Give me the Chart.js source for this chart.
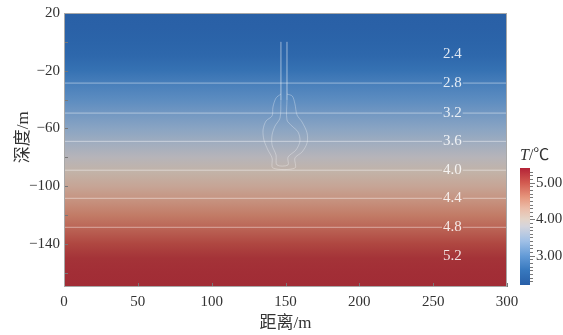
<!DOCTYPE html>
<html>
<head>
<meta charset="utf-8">
<script src="https://cdn.jsdelivr.net/npm/chart.js@4.4.1/dist/chart.umd.min.js"></script>
<style>
  html, body { margin: 0; padding: 0; background: #fff; }
  canvas { display: block; }
</style>
</head>
<body>
<canvas id="c" width="563" height="335"></canvas>
<script>
// temperature profile (depth in m, T in °C)
const depths = [20, 10, 0, -10, -20, -30, -40, -50, -60, -70, -80, -90, -100, -110, -120, -130, -140, -150, -160, -170];
const temps  = [2.28, 2.30, 2.34, 2.42, 2.62, 2.83, 3.02, 3.21, 3.41, 3.62, 3.82, 4.02, 4.22, 4.43, 4.63, 4.83, 5.05, 5.22, 5.26, 5.28];

// contour labels and where they sit
const contourLevels = [2.4, 2.8, 3.2, 3.6, 4.0, 4.4, 4.8, 5.2];
const contourDepths = [-8.5, -28.6, -49.4, -69.0, -89.0, -108.5, -128.6, -148.8];
const contourLines  = [2.8, 3.2, 3.6, 4.0, 4.4, 4.8];
const labelX = 263;

// outline of the structure (m)
const outerX = [146.9, 143.6, 141.5, 140.9, 136.8, 134.8, 135.4, 138.1, 140.9, 141.5, 156.4, 156.4, 161.2, 164.6, 164.6, 161.2, 157.8, 156.4, 154.6, 151.0];
const outerY = [-36.2, -38.9, -45.2, -51.4, -54.9, -61.1, -68.1, -75.0, -80.5, -87.5, -87.5, -80.5, -76.4, -70.1, -63.2, -55.6, -50.7, -43.1, -37.6, -36.2];
const innerX = [146.9, 146.3, 142.9, 140.9, 140.9, 143.6, 144.2, 151.7, 151.7, 157.1, 159.8, 158.5, 154.4, 151.0, 151.0];
const innerY = [-40.3, -52.8, -58.4, -64.6, -71.5, -78.5, -85.4, -85.4, -79.9, -75.0, -68.8, -62.5, -58.4, -54.2, -40.3];
const pipeX = [146.9, 151.0];
const pipeY = [0, -40.3];

// axes
const xTicks = [0, 50, 100, 150, 200, 250, 300];
const yLabelTicks = [20, -20, -60, -100, -140];
const cbMin = 2.2, cbMax = 5.4;
const cbTicks = [3, 4, 5];

// colour map (diverging blue - grey - red)
const cmapT = [2.2, 2.6, 3.0, 3.4, 3.8, 4.0, 4.3, 4.6, 5.0, 5.4];
const cmapC = [[40,95,168],[55,120,190],[100,155,215],[160,192,230],[212,212,220],[228,212,200],[235,188,168],[230,150,125],[210,90,80],[180,35,55]];
function cmap(t, shaded) {
  let i = 0;
  while (i < cmapT.length - 2 && t > cmapT[i + 1]) i++;
  let f = (t - cmapT[i]) / (cmapT[i + 1] - cmapT[i]);
  f = Math.max(0, Math.min(1, f));
  // the field is rendered a bit darker than the colour bar
  let s = 1;
  if (shaded) s = t <= 2.4 ? 0.96 : t >= 3.4 ? 0.85 : 0.96 - (t - 2.4) * 0.11;
  const c = cmapC[i].map((v, k) => Math.round((v + (cmapC[i + 1][k] - v) * f) * s));
  return 'rgb(' + c.join(',') + ')';
}

const serif = '"Liberation Serif", "Times New Roman", "Noto Sans CJK SC", serif';
const minus = v => String(v).replace('-', '\u2212');

function fieldFill(ctx) {
  const chart = ctx.chart;
  const area = chart.chartArea;
  if (!area) return null;
  const ys = chart.scales.y;
  const g = chart.ctx.createLinearGradient(0, area.top, 0, area.bottom);
  depths.forEach((d, i) => {
    const p = (ys.getPixelForValue(d) - area.top) / (area.bottom - area.top);
    g.addColorStop(Math.max(0, Math.min(1, p)), cmap(temps[i], true));
  });
  return g;
}

const datasets = [];
datasets.push({
  data: [{x: 0, y: 20}, {x: 300, y: 20}],
  showLine: true, borderWidth: 0, pointRadius: 0,
  fill: {value: -170}, backgroundColor: fieldFill, order: 5
});
contourLines.forEach(lv => {
  const d = contourDepths[contourLevels.indexOf(lv)];
  datasets.push({
    data: [{x: 0, y: d}, {x: labelX - 7, y: d}, {x: labelX, y: null}, {x: labelX + 7, y: d}, {x: 300, y: d}],
    showLine: true, spanGaps: false, borderColor: 'rgba(255,255,255,0.45)', borderWidth: 1, pointRadius: 0, order: 1
  });
});
datasets.push({
  data: outerX.map((x, i) => ({x, y: outerY[i]})),
  showLine: true, borderColor: 'rgba(255,255,255,0.3)', borderWidth: 1, pointRadius: 0, tension: 0.3, order: 1
});
datasets.push({
  data: innerX.map((x, i) => ({x, y: innerY[i]})),
  showLine: true, borderColor: 'rgba(255,255,255,0.3)', borderWidth: 1, pointRadius: 0, tension: 0.3, order: 1
});
pipeX.forEach(px => {
  datasets.push({
    data: [{x: px, y: pipeY[0]}, {x: px, y: pipeY[1]}],
    showLine: true, borderColor: 'rgba(255,255,255,0.2)', borderWidth: 1, pointRadius: 0, order: 1
  });
});

// frame, inward ticks and contour labels
const decor = {
  id: 'decor',
  afterDatasetsDraw(chart) {
    const {ctx, chartArea: a, scales: {x, y}} = chart;
    ctx.save();
    ctx.font = '15px ' + serif;
    ctx.fillStyle = 'rgba(255,255,255,0.85)';
    ctx.textAlign = 'center';
    ctx.textBaseline = 'middle';
    contourLevels.forEach((lv, i) => {
      ctx.fillText(lv.toFixed(1), x.getPixelForValue(labelX), y.getPixelForValue(contourDepths[i]));
    });
    ctx.strokeStyle = '#777';
    ctx.lineWidth = 1;
    ctx.beginPath();
    y.ticks.forEach(t => {
      const py = Math.round(y.getPixelForValue(t.value)) + 0.5;
      ctx.moveTo(a.left, py); ctx.lineTo(a.left + 4, py);
    });
    x.ticks.forEach(t => {
      const px = Math.round(x.getPixelForValue(t.value)) + 0.5;
      ctx.moveTo(px, a.bottom); ctx.lineTo(px, a.bottom - 4);
    });
    ctx.stroke();
    ctx.strokeStyle = '#a8a8a8';
    ctx.strokeRect(a.left + 0.5, a.top + 0.5, a.right - a.left - 1, a.bottom - a.top - 1);
    ctx.restore();
  }
};

// colour bar on the right
const colorbar = {
  id: 'colorbar',
  afterDraw(chart) {
    const {ctx, chartArea: a} = chart;
    const x0 = a.right + 13, w = 10, top = a.top + 155, bot = a.bottom - 2;
    const py = v => bot - (v - cbMin) / (cbMax - cbMin) * (bot - top);
    ctx.save();
    const g = ctx.createLinearGradient(0, bot, 0, top);
    cmapT.forEach(t => g.addColorStop((t - cbMin) / (cbMax - cbMin), cmap(t)));
    ctx.fillStyle = g;
    ctx.fillRect(x0, top, w, bot - top);
    ctx.strokeStyle = '#777';
    ctx.lineWidth = 1;
    ctx.beginPath();
    for (let k = 23; k <= 53; k++) {
      const yy = Math.round(py(k / 10)) + 0.5;
      ctx.moveTo(x0 + w, yy); ctx.lineTo(x0 + w + 3, yy);
    }
    cbTicks.forEach(t => {
      const yy = Math.round(py(t)) + 0.5;
      ctx.moveTo(x0 + w, yy); ctx.lineTo(x0 + w + 5, yy);
    });
    ctx.stroke();
    ctx.fillStyle = '#333';
    ctx.font = '15px ' + serif;
    ctx.textBaseline = 'middle';
    ctx.textAlign = 'left';
    cbTicks.forEach(t => ctx.fillText(t.toFixed(2), x0 + w + 6, py(t)));
    ctx.font = 'italic 16px ' + serif;
    ctx.fillText('T', x0, top - 12);
    const tw = ctx.measureText('T').width;
    ctx.font = '16px ' + serif;
    ctx.fillText('/\u2103', x0 + tw, top - 12);
    ctx.restore();
  }
};

new Chart(document.getElementById('c'), {
  type: 'scatter',
  data: {datasets},
  options: {
    responsive: false,
    animation: false,
    devicePixelRatio: 1,
    layout: {padding: {top: 13, right: 56, bottom: 0, left: 0}},
    plugins: {legend: {display: false}, tooltip: {enabled: false}},
    scales: {
      x: {
        type: 'linear', min: 0, max: 300,
        afterBuildTicks: s => { s.ticks = xTicks.map(v => ({value: v})); },
        afterFit: s => { s.height = 48; },
        grid: {display: false, drawTicks: false},
        border: {display: false},
        ticks: {padding: 6, color: '#333', font: {family: serif, size: 15}},
        title: {display: true, text: '距离/m', color: '#333', font: {family: serif, size: 17}, padding: {top: 0, bottom: 1}}
      },
      y: {
        type: 'linear', min: -170, max: 20,
        afterBuildTicks: s => {
          const t = [];
          for (let v = 20; v >= -160; v -= 20) t.push({value: v});
          s.ticks = t;
        },
        afterFit: s => { s.width = 64; },
        grid: {display: false, drawTicks: false},
        border: {display: false},
        ticks: {
          padding: 4, color: '#333', font: {family: serif, size: 15},
          callback: v => yLabelTicks.includes(v) ? minus(v) : ''
        },
        title: {display: true, text: '\u3000\u2002深度/m', color: '#333', font: {family: serif, size: 17}, padding: {top: 13, bottom: 0}}
      }
    }
  },
  plugins: [decor, colorbar]
});
</script>
</body>
</html>
